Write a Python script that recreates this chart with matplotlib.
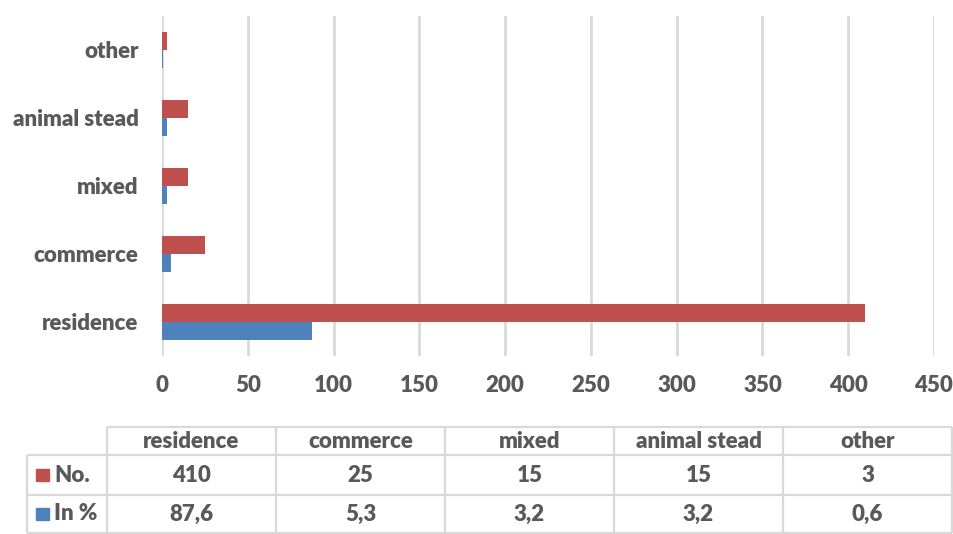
import numpy as np
import matplotlib.pyplot as plt
from matplotlib.patches import Rectangle

categories = ["residence", "commerce", "mixed", "animal stead", "other"]
counts = [410, 25, 15, 15, 3]
percents = [87.6, 5.3, 3.2, 3.2, 0.6]
countLabels = ["410", "25", "15", "15", "3"]
percentLabels = ["87,6", "5,3", "3,2", "3,2", "0,6"]

red = "#C0504D"
blue = "#4F81BD"
textGrey = "#595959"
lineGrey = "#D9D9D9"
fontName = "Lato"
fontSize = 16
fontWeight = 800

W, H = 954, 534
fig = plt.figure(figsize=(W / 100, H / 100), dpi=100)

# bar chart area (pixel box converted to figure fractions)
left, right, top, bottom = 162, 934, 16, 356
ax = fig.add_axes([left / W, 1 - bottom / H, (right - left) / W, (bottom - top) / H])

pos = np.arange(len(categories))
barH = 0.265
ax.barh(pos + barH / 2, counts, height=barH, color=red, zorder=3)
ax.barh(pos - barH / 2, percents, height=barH, color=blue, zorder=3)

ax.set_xlim(0, 450)
ax.set_ylim(-0.5, len(categories) - 0.5)
ax.set_xticks(np.arange(0, 451, 50))
ax.set_yticks(pos)
ax.set_yticklabels(categories)
ax.grid(axis="x", color=lineGrey, linewidth=2, zorder=0)
for s in ax.spines.values():
    s.set_visible(False)
ax.tick_params(length=0, labelsize=fontSize, labelcolor=textGrey)
ax.tick_params(axis="x", pad=14)
ax.tick_params(axis="y", pad=17)
for lbl in ax.get_xticklabels() + ax.get_yticklabels():
    lbl.set_fontfamily(fontName)
    lbl.set_fontweight(fontWeight)

# data table underneath, drawn in pixel coordinates
tab = fig.add_axes([0, 0, 1, 1])
tab.set_xlim(0, W)
tab.set_ylim(H, 0)
tab.axis("off")

colEdges = [107, 276, 445, 614, 783, 952]
rowEdges = [427, 455, 495, 533]
labelLeft = 27
lw = 1.6

def hline(y, x0, x1):
    tab.plot([x0, x1], [y, y], color=lineGrey, linewidth=lw, solid_capstyle="butt")

def vline(x, y0, y1):
    tab.plot([x, x], [y0, y1], color=lineGrey, linewidth=lw, solid_capstyle="butt")

hline(rowEdges[0], colEdges[0], colEdges[-1])
for y in rowEdges[1:]:
    hline(y, labelLeft, colEdges[-1])
vline(labelLeft, rowEdges[1], rowEdges[-1])
for x in colEdges:
    vline(x, rowEdges[0], rowEdges[-1])

txtKw = dict(color=textGrey, fontsize=fontSize, fontweight=fontWeight, family=fontName,
             ha="center", va="center")
for i, name in enumerate(categories):
    cx = (colEdges[i] + colEdges[i + 1]) / 2
    tab.text(cx, (rowEdges[0] + rowEdges[1]) / 2, name, **txtKw)
    tab.text(cx, (rowEdges[1] + rowEdges[2]) / 2, countLabels[i], **txtKw)
    tab.text(cx, (rowEdges[2] + rowEdges[3]) / 2, percentLabels[i], **txtKw)

for (label, col), r in zip([("No.", red), ("In %", blue)], [0, 1]):
    cy = (rowEdges[r + 1] + rowEdges[r + 2]) / 2
    tab.add_patch(Rectangle((36, cy - 6), 13, 12, color=col))
    tab.text(54, cy, label, color=textGrey, fontsize=fontSize, fontweight=fontWeight,
             family=fontName, ha="left", va="center")

fig.savefig("out.png", dpi=100)
